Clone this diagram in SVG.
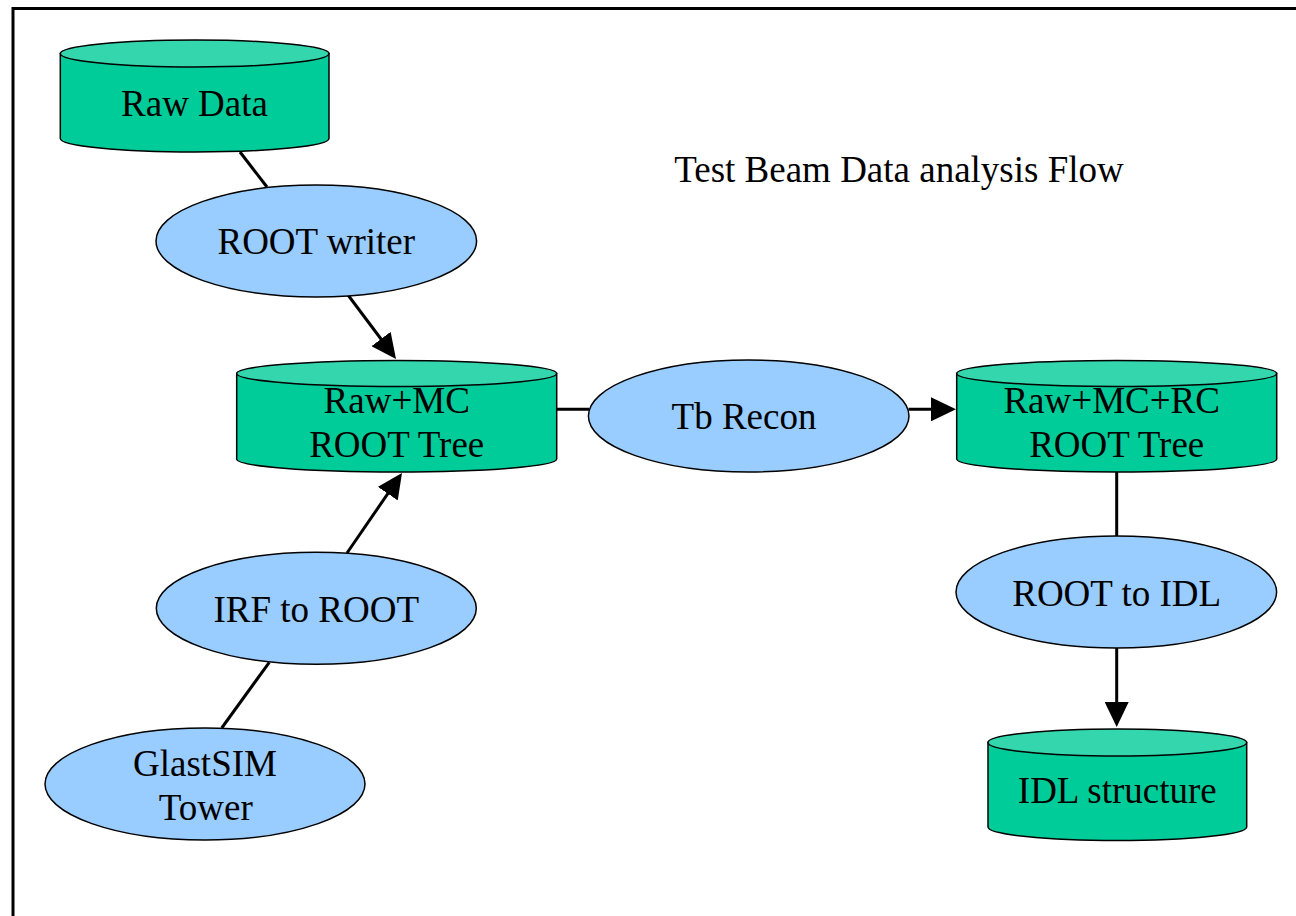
<svg xmlns="http://www.w3.org/2000/svg" width="1296" height="916" viewBox="0 0 1296 916">
  <style>
    text { font-family: "Liberation Serif", "Times New Roman", serif; font-size: 37px; fill: #000; text-anchor: middle; }
    .body { fill: #00CC99; stroke: #000; stroke-width: 1.5; }
    .lid { fill: #33D6AD; stroke: #000; stroke-width: 1.5; }
    .proc { fill: #99CCFF; stroke: #000; stroke-width: 1.5; }
    .edge { stroke: #000; stroke-width: 3; fill: none; }
    .frame { stroke: #000; stroke-width: 3; fill: none; }
  </style>
  <defs>
    <marker id="arrow" markerUnits="userSpaceOnUse" markerWidth="25" markerHeight="24" refX="10" refY="12" orient="auto">
      <path d="M0,0 L25,12 L0,24 Z" fill="#000"/>
    </marker>
  </defs>

  <rect width="1296" height="916" fill="#fff"/>
  <!-- page frame, open to the right and bottom -->
  <path class="frame" d="M13,916 V8.5 H1296"/>

  <text x="899" y="182">Test Beam Data analysis Flow</text>

  <!-- connectors -->
  <g id="connectors">
    <line class="edge" x1="240" y1="152" x2="267" y2="187"/>
    <line class="edge" x1="348" y1="295" x2="387" y2="347" marker-end="url(#arrow)"/>
    <line class="edge" x1="221.7" y1="728" x2="269.3" y2="662.3"/>
    <line class="edge" x1="347" y1="553" x2="393.5" y2="485.4" marker-end="url(#arrow)"/>
    <line class="edge" x1="556.7" y1="409.3" x2="589" y2="409.3"/>
    <line class="edge" x1="908.5" y1="409.3" x2="941" y2="409.3" marker-end="url(#arrow)"/>
    <line class="edge" x1="1116.7" y1="472" x2="1116.7" y2="537"/>
    <line class="edge" x1="1116.7" y1="647" x2="1116.7" y2="712" marker-end="url(#arrow)"/>
  </g>

  <!-- data stores -->
  <g id="raw-data">
    <path class="body" d="M60.3,53.5 V138.5 A134.35,13.5 0 0 0 329,138.5 V53.5 Z"/>
    <ellipse class="lid" cx="194.65" cy="53.5" rx="134.35" ry="13.5"/>
    <text x="194.5" y="116">Raw Data</text>
  </g>

  <g id="raw-mc-tree">
    <path class="body" d="M236.7,373.5 V459 A160,13 0 0 0 556.7,459 V373.5 Z"/>
    <ellipse class="lid" cx="396.7" cy="373.5" rx="160" ry="13"/>
    <text x="396.7" y="413">Raw+MC</text>
    <text x="396.7" y="457">ROOT Tree</text>
  </g>

  <g id="raw-mc-rc-tree">
    <path class="body" d="M956.7,373.5 V459 A160,13 0 0 0 1276.7,459 V373.5 Z"/>
    <ellipse class="lid" cx="1116.7" cy="373.5" rx="160" ry="13"/>
    <text x="1111.7" y="413">Raw+MC+RC</text>
    <text x="1116.7" y="457">ROOT Tree</text>
  </g>

  <g id="idl-structure">
    <path class="body" d="M988,742.5 V827 A129.35,13.5 0 0 0 1246.7,827 V742.5 Z"/>
    <ellipse class="lid" cx="1117.35" cy="742.5" rx="129.35" ry="13.5"/>
    <text x="1117.3" y="803">IDL structure</text>
  </g>

  <!-- processing steps -->
  <g id="root-writer">
    <ellipse class="proc" cx="316.3" cy="241" rx="160.3" ry="56"/>
    <text x="316.3" y="254">ROOT writer</text>
  </g>

  <g id="irf-to-root">
    <ellipse class="proc" cx="316.3" cy="608.3" rx="160" ry="56"/>
    <text x="316.3" y="622.3">IRF to ROOT</text>
  </g>

  <g id="glastsim-tower">
    <ellipse class="proc" cx="205" cy="784" rx="160" ry="56"/>
    <text x="205" y="776">GlastSIM</text>
    <text x="205.8" y="820">Tower</text>
  </g>

  <g id="tb-recon">
    <ellipse class="proc" cx="748.7" cy="416" rx="160.3" ry="56"/>
    <text x="744" y="429.3">Tb Recon</text>
  </g>

  <g id="root-to-idl">
    <ellipse class="proc" cx="1116.3" cy="592" rx="160.3" ry="56"/>
    <text x="1116.7" y="606">ROOT to IDL</text>
  </g>
</svg>
